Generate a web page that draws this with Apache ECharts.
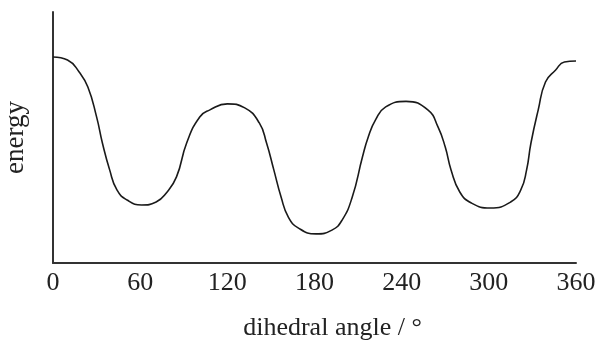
<!DOCTYPE html>
<html>
<head>
<meta charset="utf-8">
<script src="https://cdn.jsdelivr.net/npm/echarts@6/dist/echarts.min.js"></script>
<style>html,body{margin:0;padding:0;background:#fff;}#c{width:597px;height:343px;}</style>
</head>
<body>
<div id="c"></div>
<script>
// dihedral angle (degrees)
var angles = [0,10,18,24,30,34,39,44,51,61,71,78,85,92,101,108,120,132,142,147,152,157,162,169,181,192,199,206,213,217,222,229,243,258,265,270,274,280,288,301,315,322,326,329,334,339,346,352,360];
// energy (arbitrary units, 0-100)
var energy = [82.1,80.9,76.1,70.1,58.2,47.8,37.1,29.1,25.1,23.1,24.3,27.9,34.3,47.8,58.2,61.0,63.4,61.8,55.8,47.8,37.1,26.3,18.3,13.9,11.6,13.1,17.1,26.3,42.2,50.2,57.0,62.2,64.4,61.0,54.2,46.2,37.1,28.3,23.9,21.9,24.3,29.1,37.1,47.8,61.0,72.1,76.9,80.1,80.5];
var xTicks = [0,60,120,180,240,300,360];
var xTitle = 'dihedral angle / °';
var yTitle = 'energy';

var pts = angles.map(function(a,i){return [a, energy[i]];});
var chart = echarts.init(document.getElementById('c'));
var serif = '"Liberation Serif","Times New Roman",serif';
chart.setOption({
  animation:false,
  backgroundColor:'#fff',
  grid:{left:53,right:21,top:12,bottom:80,outerBoundsMode:'none',containLabel:false},
  xAxis:{
    type:'value',min:xTicks[0],max:xTicks[xTicks.length-1],interval:60,
    axisLine:{show:true,lineStyle:{color:'#333',width:2}},
    axisTick:{show:false},
    splitLine:{show:false},
    axisLabel:{color:'#222',fontFamily:serif,fontSize:26,margin:7},
    name:xTitle,nameLocation:'middle',nameGap:52,
    nameTextStyle:{color:'#222',fontFamily:serif,fontSize:26,padding:[0,0,0,36]}
  },
  yAxis:{
    type:'value',min:0,max:100,
    axisLine:{show:true,lineStyle:{color:'#333',width:2}},
    axisTick:{show:false},axisLabel:{show:false},splitLine:{show:false},
    name:yTitle,nameLocation:'middle',nameGap:24,nameRotate:90,
    nameTextStyle:{color:'#222',fontFamily:serif,fontSize:27}
  },
  series:[{
    type:'line',data:pts,smooth:0.5,showSymbol:false,
    lineStyle:{color:'#1a1a1a',width:1.6}
  }]
});
</script>
</body>
</html>
